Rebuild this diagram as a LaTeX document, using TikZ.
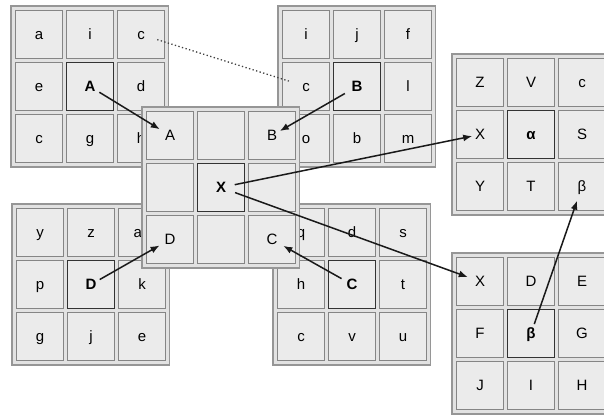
\documentclass[tikz,border=0pt]{standalone}
\usepackage{fontspec}
\setmainfont{Liberation Sans}
\usetikzlibrary{arrows.meta}
\definecolor{cellfill}{HTML}{EBEBEB}
\definecolor{boxfill}{HTML}{E2E2E2}
\definecolor{cellline}{HTML}{858585}
\definecolor{boxline}{HTML}{969696}
\definecolor{centerline}{HTML}{333333}
\tikzset{
  outerbox/.style={draw=boxline, fill=boxfill, line width=1.3pt, minimum width=157.5pt, minimum height=161pt, inner sep=0pt},
  cell/.style={draw=cellline, fill=cellfill, line width=1.3pt, minimum width=47pt, minimum height=48pt, inner sep=0pt,
    text height=10.5pt, text depth=0pt, font=\fontsize{15}{17}\selectfont},
  centercell/.style={draw=centerline, line width=1.9pt},
  conn/.style={line width=1.5pt, draw=black!90, -{Latex[length=9pt,width=7pt]}},
  dotconn/.style={line width=1.3pt, draw=black!75, dash pattern=on 1.3pt off 2.4pt},
}
\newcommand\mygrid[4]{%
  \node[outerbox] (#1-box) at (#2+78.75, #3+80.5) {};
  \foreach \lab [count=\k from 0] in {#4} {
    \pgfmathtruncatemacro\gr{\k/3}
    \pgfmathtruncatemacro\gc{mod(\k,3)}
    \ifnum\k=4 \tikzset{cur/.style={centercell}}\else\tikzset{cur/.style={}}\fi
    \node[cell,cur] (#1-\gr\gc) at (#2+28+51*\gc, #3+28.5+52*\gr) {\lab};
  }
}
\begin{document}
\begin{tikzpicture}[x=1pt,y=-1pt]
\useasboundingbox (0,0) rectangle (604,415);
\clip (0,0) rectangle (604,415);
\mygrid{GA}{11}{6}{a,i,c,e,\textbf{A},d,c,g,h}
\mygrid{GB}{278}{6}{i,j,f,c,\textbf{B},l,o,b,m}
\mygrid{GD}{12}{204}{y,z,aa,p,\textbf{D},k,g,j,e}
\mygrid{GC}{273}{204}{q,d,s,h,\textbf{C},t,c,v,u}
\mygrid{GX}{142}{107}{A,{},B,{},\textbf{X},{},D,{},C}
\mygrid{GAl}{452}{54}{Z,V,c,X,\textbf{α},S,Y,T,β}
\mygrid{GBe}{452}{253}{X,D,E,F,\textbf{β},G,J,I,H}
% connectors
\draw[dotconn, shorten <=17pt, shorten >=18pt] (GA-02.center) -- (GB-10.center);
\draw[conn, shorten <=11pt, shorten >=12pt] (GA-11.center) -- (GX-00.center);
\draw[conn, shorten <=14pt, shorten >=9pt] (GB-11.center) -- (GX-02.center);
\draw[conn, shorten <=10pt, shorten >=12pt] (GD-11.center) -- (GX-20.center);
\draw[conn, shorten <=12pt, shorten >=13pt] (GC-11.center) -- (GX-22.center);
\draw[conn, shorten <=14pt, shorten >=8pt] (GX-11.center) -- (GAl-10.center);
\draw[conn, shorten <=15pt, shorten >=13pt] (GX-11.center) -- (GBe-00.center);
\draw[conn, shorten <=10pt, shorten >=15pt] (GBe-11.center) -- (GAl-22.center);
\end{tikzpicture}
\end{document}
